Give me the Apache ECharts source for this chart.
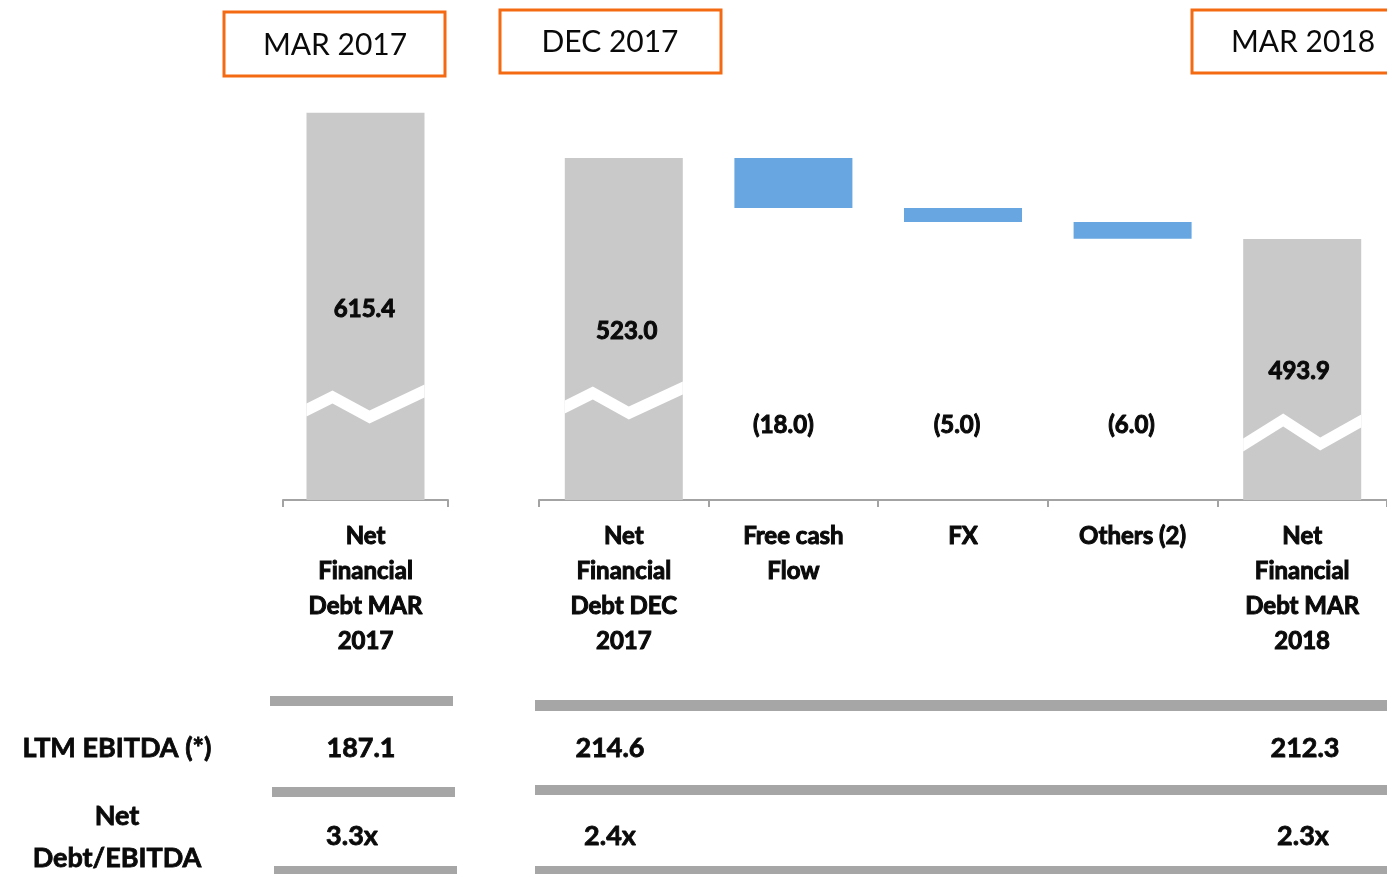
<!DOCTYPE html>
<html><head><meta charset="utf-8">
<script src="https://cdn.jsdelivr.net/npm/echarts@6/dist/echarts.min.js"></script>
<style>html,body{margin:0;padding:0;background:#fff}#c{width:1387px;height:874px}</style>
</head><body><div id="c"></div>
<script>
// ---------- data ----------
const leftCategories = ['Net\nFinancial\nDebt MAR\n2017'];
const leftValues = [615.4];
const rightCategories = ['Net\nFinancial\nDebt DEC\n2017', 'Free cash\nFlow', 'FX', 'Others (2)', 'Net\nFinancial\nDebt MAR\n2018'];
const openingDebt = 523.0;
const movements = [-18.0, -5.0, -6.0];
const closingDebt = 493.9;
const periodBoxes = ['MAR 2017', 'DEC 2017', 'MAR 2018'];
const rowLabels = ['LTM EBITDA (*)', 'Net\nDebt/EBITDA'];
const ebitdaValues = ['187.1', '214.6', '212.3'];
const leverageValues = ['3.3x', '2.4x', '2.3x'];

// ---------- derived waterfall ----------
const baseVals = [0];
const barVals = [openingDebt];
let running = openingDebt;
movements.forEach(m => { running += m; baseVals.push(running); barVals.push(Math.abs(m)); });
baseVals.push(0); barVals.push(closingDebt);
const rightLabelVals = [openingDebt].concat(movements, [closingDebt]);

// ---------- styles ----------
const FONT = 'Lato, "Open Sans", sans-serif';
const GRAY = '#C9C9C9', BLUE = '#67A6E0', AXIS = '#A3A3A3', ORANGE = '#F46A12', RULE = '#A6A6A6', INK = '#0a0a0a';
const BAR_W = 118;
const Y_MIN = 400;
const fmt = v => v < 0 ? '(' + Math.abs(v).toFixed(1) + ')' : v.toFixed(1);
// label placement (px) per category: lift above axis, horizontal nudge
const leftLift = [191], leftDx = [-1];
const rightLift = [169, 75, 75, 75, 129], rightDx = [3, -10, -6, -1, -3];
// axis-break zigzag shapes
const leftBreaks = {0: {lift: 96, xs: [0, 26, 63, 118], ys: [6, -7, 13, -13]}};
const rightBreaks = {
  0: {lift: 100, xs: [0, 28, 64, 118], ys: [7, -7, 13, -12]},
  4: {lift: 68, xs: [0, 40, 77, 118], ys: [13, -12, 12, -11]}
};

function breakRenderer(shapes) {
  return function (params, api) {
    const i = api.value(0);
    const s = shapes[i];
    if (!s) return null;
    const c = api.coord([i, Y_MIN]);
    const x0 = c[0] - BAR_W / 2;
    const yc = c[1] - s.lift;
    const up = s.xs.map((x, k) => [x0 + x, yc + s.ys[k] - 6.5]);
    const lo = s.xs.map((x, k) => [x0 + x, yc + s.ys[k] + 6.5]).reverse();
    return {type: 'polygon', shape: {points: up.concat(lo)}, style: {fill: '#fff'}, z2: 10};
  };
}
function labelRenderer(lifts, dxs) {
  return function (params, api) {
    const i = api.value(0);
    const c = api.coord([i, Y_MIN]);
    return {type: 'text', style: {text: fmt(api.value(1)), x: c[0] + dxs[i], y: c[1] - lifts[i], align: 'center', verticalAlign: 'middle', font: 'bold 24px ' + FONT, fill: INK, stroke: INK, lineWidth: 1}, z2: 20};
  };
}

const catAxis = (gi, data) => ({
  type: 'category', gridIndex: gi, data: data,
  axisLine: {lineStyle: {color: AXIS, width: 2}},
  axisTick: {show: true, length: 7, lineStyle: {color: AXIS, width: 2}},
  axisLabel: {color: INK, fontFamily: FONT, fontWeight: 'bold', fontSize: 24, lineHeight: 35, margin: 19, interval: 0,
    textBorderColor: INK, textBorderWidth: 1}
});

// ---------- graphic (boxes + table) ----------
const boxLayout = [
  {x: 224, y: 12, w: 221, h: 64, cx: 335, cy: 45},
  {x: 500, y: 10, w: 221, h: 63, cx: 610, cy: 42},
  {x: 1192, y: 10, w: 230, h: 63, cx: 1303, cy: 42}
];
const graphics = [];
periodBoxes.forEach((t, k) => {
  const b = boxLayout[k];
  graphics.push({type: 'rect', shape: {x: b.x, y: b.y, width: b.w, height: b.h}, style: {fill: '#fff', stroke: ORANGE, lineWidth: 3}});
  graphics.push({type: 'text', style: {text: t, x: b.cx, y: b.cy, align: 'center', verticalAlign: 'middle', font: '30px ' + FONT, fill: INK}});
});
const rules = [
  [270, 696, 183, 10], [535, 700, 852, 11],
  [272, 787, 183, 10], [535, 785, 852, 10],
  [274, 866, 183, 10], [535, 866, 852, 10]
];
rules.forEach(r => graphics.push({type: 'rect', shape: {x: r[0], y: r[1], width: r[2], height: r[3]}, style: {fill: RULE}}));
const tFont = 'bold 27px ' + FONT;
const tStyle = (text, x, y, extra) => Object.assign({text: text, x: x, y: y, align: 'center', verticalAlign: 'middle', font: tFont, fill: INK, stroke: INK, lineWidth: 0.8}, extra || {});
graphics.push({type: 'text', style: tStyle(rowLabels[0], 117, 748)});
graphics.push({type: 'text', style: tStyle(rowLabels[1], 117, 837, {lineHeight: 42})});
const ebitdaX = [361, 610, 1305], levX = [352, 610, 1303];
ebitdaValues.forEach((t, k) => graphics.push({type: 'text', style: tStyle(t, ebitdaX[k], 748)}));
leverageValues.forEach((t, k) => graphics.push({type: 'text', style: tStyle(t, levX[k], 836)}));

const chart = echarts.init(document.getElementById('c'), null, {renderer: 'canvas'});
chart.setOption({
  animation: false,
  backgroundColor: '#fff',
  grid: [
    {left: 283, width: 165, top: 83, height: 417},
    {left: 539, right: 0, top: 83, height: 417}
  ],
  xAxis: [catAxis(0, leftCategories), catAxis(1, rightCategories)],
  yAxis: [
    {type: 'value', gridIndex: 0, min: Y_MIN, max: 632, show: false, splitLine: {show: false}},
    {type: 'value', gridIndex: 1, min: Y_MIN, max: 550, show: false, splitLine: {show: false}}
  ],
  series: [
    {type: 'bar', xAxisIndex: 0, yAxisIndex: 0, data: leftValues, barWidth: BAR_W, itemStyle: {color: GRAY}},
    {type: 'bar', xAxisIndex: 1, yAxisIndex: 1, stack: 'wf', data: baseVals, barWidth: BAR_W, itemStyle: {color: 'transparent'}, silent: true},
    {type: 'bar', xAxisIndex: 1, yAxisIndex: 1, stack: 'wf', barWidth: BAR_W,
      data: barVals.map((v, i) => ({value: v, itemStyle: {color: (i === 0 || i === barVals.length - 1) ? GRAY : BLUE}}))},
    {type: 'custom', xAxisIndex: 0, yAxisIndex: 0, renderItem: breakRenderer(leftBreaks), data: leftValues.map((v, i) => [i, v]), encode: {x: 0, y: 1}, z: 5},
    {type: 'custom', xAxisIndex: 1, yAxisIndex: 1, renderItem: breakRenderer(rightBreaks), data: rightLabelVals.map((v, i) => [i, v]), encode: {x: 0, y: 1}, z: 5},
    {type: 'custom', xAxisIndex: 0, yAxisIndex: 0, renderItem: labelRenderer(leftLift, leftDx), data: leftValues.map((v, i) => [i, v]), encode: {x: 0, y: 1}, z: 6},
    {type: 'custom', xAxisIndex: 1, yAxisIndex: 1, renderItem: labelRenderer(rightLift, rightDx), data: rightLabelVals.map((v, i) => [i, v]), encode: {x: 0, y: 1}, z: 6}
  ],
  graphic: graphics
});
</script>
</body></html>
